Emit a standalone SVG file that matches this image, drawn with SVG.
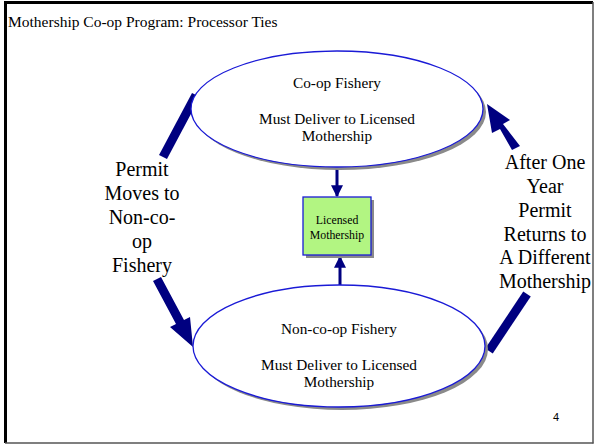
<svg xmlns="http://www.w3.org/2000/svg" width="595" height="445" viewBox="0 0 595 445">
  <style>
    .serif { font-family: "Liberation Serif", "Times New Roman", serif; fill: #000; }
    .big { font-size: 20px; }
    .mid { font-size: 15.3px; }
    .small { font-size: 11.8px; }
    .shadow { fill: #8a8a8a; }
    .oval { fill: #fff; stroke: #1a1ad6; stroke-width: 1.3; }
    .flow { fill: #000080; }
    .link { stroke: #000080; stroke-width: 3; fill: none; }
  </style>
  <defs>
    <marker id="head" viewBox="0 0 10 10" refX="9" refY="5" markerWidth="4" markerHeight="4" orient="auto" markerUnits="strokeWidth">
      <path d="M0,0 L10,5 L0,10 Z" fill="#000080"/>
    </marker>
  </defs>

  <!-- slide frame -->
  <rect x="0" y="0" width="595" height="445" fill="#fff"/>
  <line x1="5" y1="2.5" x2="593" y2="2.5" stroke="#000" stroke-width="3"/>
  <line x1="5.5" y1="1" x2="5.5" y2="443" stroke="#000" stroke-width="3"/>
  <line x1="593" y1="2" x2="593" y2="443.5" stroke="#555" stroke-width="1.5"/>
  <line x1="5" y1="443" x2="593.5" y2="443" stroke="#555" stroke-width="1.5"/>

  <text class="serif" x="8" y="27" font-size="15.5">Mothership Co-op Program: Processor Ties</text>

  <!-- connectors -->
  <g id="connectors">
    <line class="link" x1="337" y1="168" x2="337" y2="196" marker-end="url(#head)"/>
    <line class="link" x1="340" y1="285" x2="340" y2="257" marker-end="url(#head)"/>
    <!-- left sweep: co-op to non-co-op -->
    <line x1="196" y1="95" x2="163" y2="157" stroke="#000080" stroke-width="9"/>
    <path class="flow" d="M153,281 L161,277 L184,320 L190,317 L193,347 L170,327 L176,324 Z"/>
    <!-- right sweep: non-co-op back to co-op -->
    <line x1="489" y1="351" x2="527" y2="294" stroke="#000080" stroke-width="9"/>
    <path class="flow" d="M520,146 L512,150 L500,129 L492,133 L487,104 L510,120 L503,124 Z"/>
  </g>

  <!-- side labels -->
  <g id="label-left">
    <text class="serif big" text-anchor="middle" x="142" y="176">Permit</text>
    <text class="serif big" text-anchor="middle" x="142" y="200">Moves to</text>
    <text class="serif big" text-anchor="middle" x="142" y="224">Non-co-</text>
    <text class="serif big" text-anchor="middle" x="142" y="248">op</text>
    <text class="serif big" text-anchor="middle" x="142" y="272">Fishery</text>
  </g>
  <g id="label-right">
    <text class="serif big" text-anchor="middle" x="545" y="169">After One</text>
    <text class="serif big" text-anchor="middle" x="545" y="193">Year</text>
    <text class="serif big" text-anchor="middle" x="545" y="217">Permit</text>
    <text class="serif big" text-anchor="middle" x="545" y="241">Returns to</text>
    <text class="serif big" text-anchor="middle" x="545" y="264">A Different</text>
    <text class="serif big" text-anchor="middle" x="545" y="288">Mothership</text>
  </g>

  <g id="coop-fishery">
    <ellipse class="shadow" cx="340" cy="112" rx="146" ry="58"/>
    <ellipse class="oval" cx="337" cy="109" rx="146" ry="58"/>
    <text class="serif mid" text-anchor="middle" x="337" y="88">Co-op Fishery</text>
    <text class="serif mid" text-anchor="middle" x="337" y="124">Must Deliver to Licensed</text>
    <text class="serif mid" text-anchor="middle" x="337" y="141">Mothership</text>
  </g>

  <g id="licensed-mothership">
    <rect class="shadow" x="306" y="200" width="68" height="58"/>
    <rect x="303" y="197" width="68" height="58" fill="#b2f582" stroke="#1a1ad6" stroke-width="1.3"/>
    <text class="serif small" text-anchor="middle" x="337" y="224">Licensed</text>
    <text class="serif small" text-anchor="middle" x="337" y="239">Mothership</text>
  </g>

  <g id="non-coop-fishery">
    <ellipse class="shadow" cx="342" cy="349" rx="146" ry="61"/>
    <ellipse class="oval" cx="339" cy="346" rx="146" ry="61"/>
    <text class="serif mid" text-anchor="middle" x="339" y="334">Non-co-op Fishery</text>
    <text class="serif mid" text-anchor="middle" x="339" y="370">Must Deliver to Licensed</text>
    <text class="serif mid" text-anchor="middle" x="339" y="387">Mothership</text>
  </g>

  <text x="556" y="421" text-anchor="middle" font-family="Liberation Sans, Arial, sans-serif" font-size="11">4</text>
</svg>
